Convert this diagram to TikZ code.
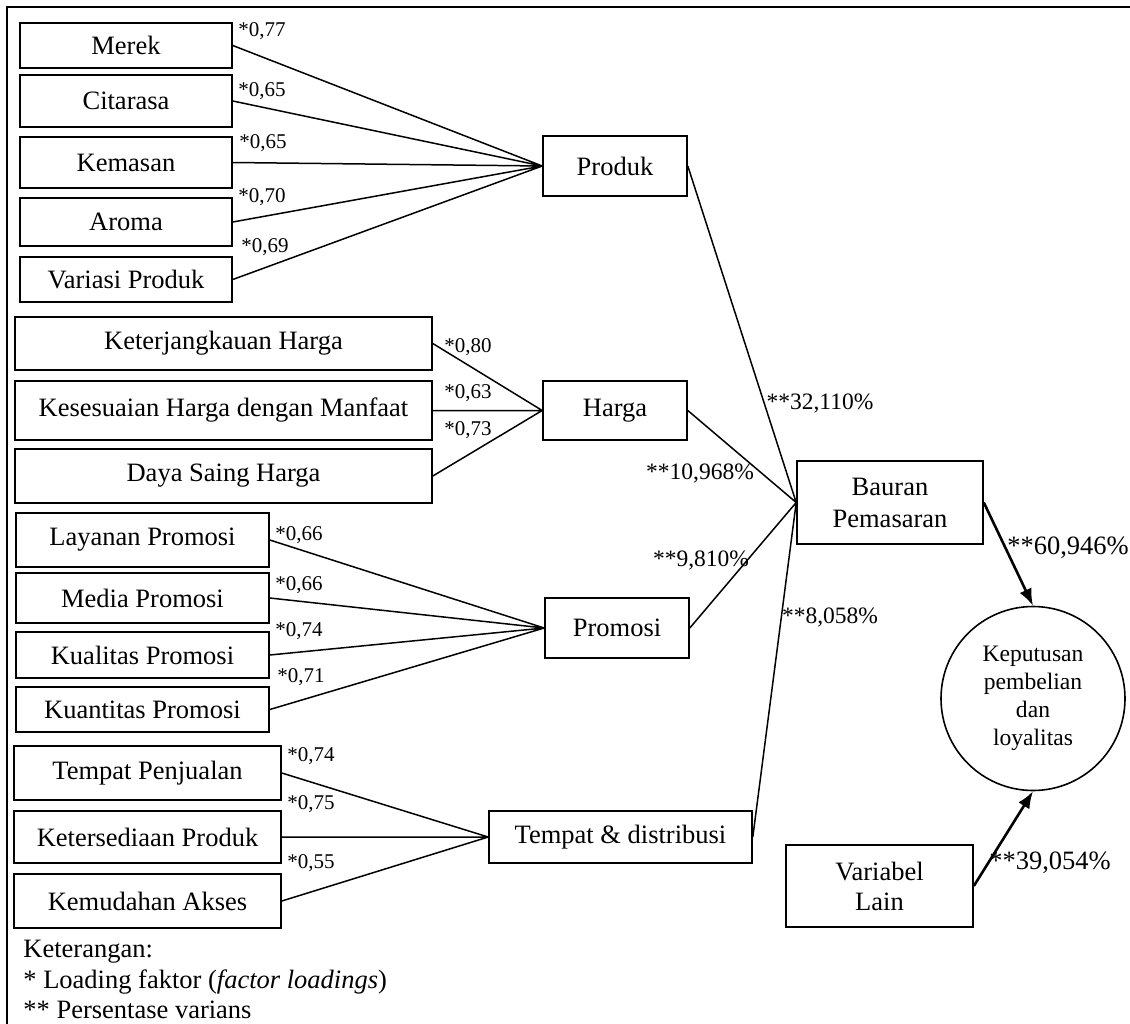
\documentclass[tikz,border=0pt]{standalone}
\usepackage{fontspec}
\setmainfont{Liberation Serif}
\usetikzlibrary{arrows.meta}

\tikzset{
  kotak/.style={draw, line width=0.8pt, inner sep=2pt, align=center,
    font=\fontsize{13.25pt}{16pt}\selectfont},
  muat/.style={inner sep=0pt, font=\fontsize{10.5pt}{12pt}\selectfont},
  varians/.style={inner sep=0pt, font=\fontsize{11.75pt}{14pt}\selectfont},
  besar/.style={inner sep=0pt, font=\fontsize{13.25pt}{16pt}\selectfont},
  garis/.style={line width=0.75pt},
  panah/.style={line width=1.3pt, -{Latex[length=8.5pt,width=6.5pt]}},
}

\begin{document}
\begin{tikzpicture}[x=0.5pt,y=-0.5pt]
    \useasboundingbox (0,0) rectangle (1130,1023);
    \draw[line width=1pt] (1140,7) -- (7,7) -- (7,1030);
    % Produk
    \node[kotak, minimum width=106pt, minimum height=22.5pt] (merek) at (126,45.5) {Merek};
    \node[kotak, minimum width=106pt, minimum height=26pt] (citarasa) at (126,101) {Citarasa};
    \node[kotak, minimum width=106pt, minimum height=25.5pt] (kemasan) at (126,162.5) {Kemasan};
    \node[kotak, minimum width=106pt, minimum height=24pt] (aroma) at (126,222) {Aroma};
    \node[kotak, minimum width=106pt, minimum height=22.5pt] (variasi) at (126,279.5) {Variasi Produk};
    \node[kotak, minimum width=72pt, minimum height=30pt] (produk) at (615,166) {Produk};
    \draw[garis] (merek.east) -- (produk.west) (citarasa.east) -- (produk.west)
        (kemasan.east) -- (produk.west) (aroma.east) -- (produk.west) (variasi.east) -- (produk.west);
    \node[muat] (lmerek) at (262,31) {*0,77};
    \node[muat] (lcitarasa) at (262,91) {*0,65};
    \node[muat] (lkemasan) at (263,143) {*0,65};
    \node[muat] (laroma) at (262,197) {*0,70};
    \node[muat] (lvariasi) at (265,247) {*0,69};
    % Harga
    \node[kotak, minimum width=208.5pt, minimum height=26.5pt] (jangkau) at (223.5,343.5) {Keterjangkauan Harga};
    \node[kotak, minimum width=208.5pt, minimum height=29.5pt] (sesuai) at (223.5,410.5) {Kesesuaian Harga dengan Manfaat};
    \node[kotak, minimum width=208.5pt, minimum height=27pt] (saing) at (223.5,476) {Daya Saing Harga};
    \node[kotak, minimum width=72pt, minimum height=29.5pt] (harga) at (615,410.5) {Harga};
    \draw[garis] (jangkau.east) -- (harga.west) (sesuai.east) -- (harga.west) (saing.east) -- (harga.west);
    \node[muat] (ljangkau) at (468,347) {*0,80};
    \node[muat] (lsesuai) at (468,393) {*0,63};
    \node[muat] (lsaing) at (468,430) {*0,73};
    % Promosi
    \node[kotak, minimum width=126.5pt, minimum height=27pt] (layanan) at (142.5,540) {Layanan Promosi};
    \node[kotak, minimum width=126.5pt, minimum height=25pt] (media) at (142.5,598) {Media Promosi};
    \node[kotak, minimum width=126.5pt, minimum height=23pt] (kualitas) at (142.5,655) {Kualitas Promosi};
    \node[kotak, minimum width=126.5pt, minimum height=22.5pt] (kuantitas) at (142.5,709.5) {Kuantitas Promosi};
    \node[kotak, minimum width=72pt, minimum height=30pt] (promosi) at (617,628) {Promosi};
    \draw[garis] (layanan.east) -- (promosi.west) (media.east) -- (promosi.west)
        (kualitas.east) -- (promosi.west) (kuantitas.east) -- (promosi.west);
    \node[muat] (llayanan) at (299,535) {*0,66};
    \node[muat] (lmedia) at (299,585) {*0,66};
    \node[muat] (lkualitas) at (299,631) {*0,74};
    \node[muat] (lkuantitas) at (301,677) {*0,71};
    % Tempat & distribusi
    \node[kotak, minimum width=133.5pt, minimum height=27pt] (penjualan) at (147.5,773) {Tempat Penjualan};
    \node[kotak, minimum width=133.5pt, minimum height=26pt] (sedia) at (147.5,837) {Ketersediaan Produk};
    \node[kotak, minimum width=133.5pt, minimum height=27pt] (akses) at (147.5,901) {Kemudahan Akses};
    \node[kotak, minimum width=131.5pt, minimum height=26pt] (tempat) at (620.5,837) {Tempat \& distribusi};
    \draw[garis] (penjualan.east) -- (tempat.west) (sedia.east) -- (tempat.west) (akses.east) -- (tempat.west);
    \node[muat] (lpenjualan) at (311,756) {*0,74};
    \node[muat] (lsedia) at (311,804) {*0,75};
    \node[muat] (lakses) at (311,863) {*0,55};
    % Bauran pemasaran dan keputusan
    \node[kotak, minimum width=93pt, minimum height=41.5pt] (bauran) at (890,502.5) {Bauran\\Pemasaran};
    \node[draw, circle, line width=0.8pt, minimum size=92pt, inner sep=0pt, align=center,
        font=\fontsize{11.8pt}{14pt}\selectfont] (putusan) at (1033,698.5) {Keputusan\\pembelian\\dan\\loyalitas};
    \node[kotak, minimum width=93.5pt, minimum height=41pt, font=\fontsize{13.25pt}{15pt}\selectfont] (lain) at (879.5,886) {Variabel\\Lain};
    \draw[garis] (produk.east) -- (bauran.west) (harga.east) -- (bauran.west)
        (promosi.east) -- (bauran.west) (tempat.east) -- (bauran.west);
    \draw[panah] (bauran.east) -- (putusan.north);
    \draw[panah] (lain.east) -- (putusan.south);
    \node[varians] (vproduk) at (820,403) {**32,110\%};
    \node[varians] (vharga) at (700,473) {**10,968\%};
    \node[varians] (vpromosi) at (701,560) {**9,810\%};
    \node[varians] (vtempat) at (830,617) {**8,058\%};
    \node[besar] (vbauran) at (1068,548) {**60,946\%};
    \node[besar] (vlain) at (1050,863) {**39,054\%};
    % Keterangan
    \node[besar, anchor=west] (ket) at (23,952) {Keterangan:};
    \node[besar, anchor=west] (ket1) at (23,982) {* Loading faktor (\textit{factor loadings})};
    \node[besar, anchor=west] (ket2) at (23,1010) {** Persentase varians};
\end{tikzpicture}
\end{document}
